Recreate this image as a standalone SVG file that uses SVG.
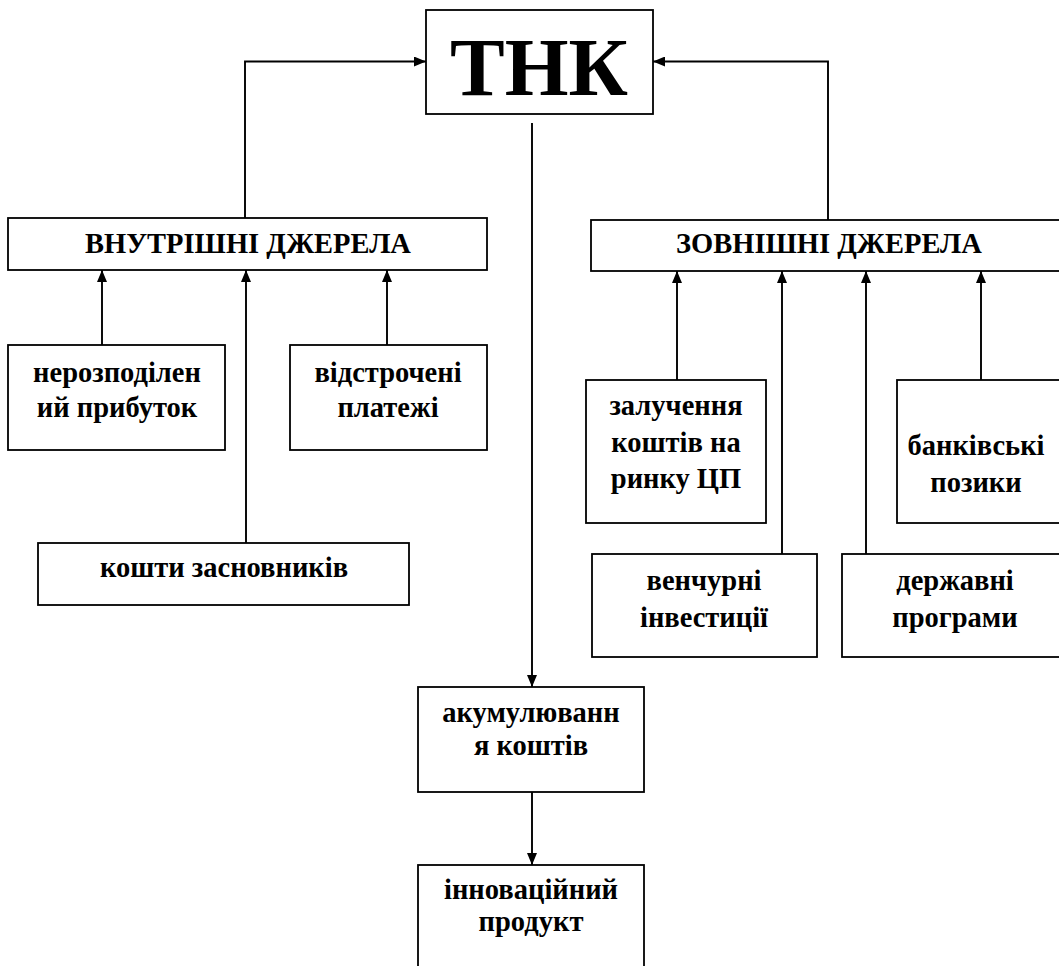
<svg xmlns="http://www.w3.org/2000/svg" width="1059" height="966" viewBox="0 0 1059 966">
<style>
.box{fill:#fff;stroke:#000;stroke-width:1.8}
.t{font-family:"Liberation Serif","Times New Roman",serif;font-weight:bold;font-size:28.5px;text-anchor:middle;fill:#000}
.c{fill:none;stroke:#000;stroke-width:1.9}
</style>
<defs>
<marker id="ah" viewBox="0 0 12 10" refX="12" refY="5" markerWidth="12" markerHeight="10" markerUnits="userSpaceOnUse" orient="auto">
<path d="M0,0 L12,5 L0,10 Z" fill="#000"/>
</marker>
</defs>
<rect width="1059" height="966" fill="#fff"/>
<g id="connectors">
<polyline class="c" points="245,219 245,61.5 426,61.5" marker-end="url(#ah)"/>
<polyline class="c" points="828,220 828,61.5 653,61.5" marker-end="url(#ah)"/>
<line class="c" x1="532" y1="123" x2="532" y2="687" marker-end="url(#ah)"/>
<line class="c" x1="102" y1="345" x2="102" y2="270" marker-end="url(#ah)"/>
<line class="c" x1="246" y1="543" x2="246" y2="270" stroke-width="2.8" marker-end="url(#ah)"/>
<line class="c" x1="387" y1="345" x2="387" y2="270" marker-end="url(#ah)"/>
<line class="c" x1="677" y1="380" x2="677" y2="271" marker-end="url(#ah)"/>
<line class="c" x1="782" y1="554" x2="782" y2="271" marker-end="url(#ah)"/>
<line class="c" x1="866" y1="554" x2="866" y2="271" marker-end="url(#ah)"/>
<line class="c" x1="981" y1="380" x2="981" y2="271" marker-end="url(#ah)"/>
<line class="c" x1="532" y1="792" x2="532" y2="865" marker-end="url(#ah)"/>
</g>
<g id="tnk">
<rect class="box" x="426" y="10" width="227" height="104"/>
<text class="t" x="539" y="95" style="font-size:82px">ТНК</text>
</g>
<g id="internal">
<rect class="box" x="8" y="218" width="479" height="52"/>
<text class="t" x="248" y="253">ВНУТРІШНІ ДЖЕРЕЛА</text>
</g>
<g id="external">
<rect class="box" x="591" y="220" width="480" height="51"/>
<text class="t" x="829" y="253">ЗОВНІШНІ ДЖЕРЕЛА</text>
</g>
<g id="retained">
<rect class="box" x="8" y="345" width="217" height="105"/>
<text class="t" x="117" y="382">нерозподілен</text>
<text class="t" x="117" y="417">ий прибуток</text>
</g>
<g id="deferred">
<rect class="box" x="290" y="345" width="197" height="105"/>
<text class="t" x="388" y="382">відстрочені</text>
<text class="t" x="388" y="417">платежі</text>
</g>
<g id="founders">
<rect class="box" x="38" y="543" width="371" height="62"/>
<text class="t" x="224" y="577">кошти засновників</text>
</g>
<g id="securities">
<rect class="box" x="586" y="380" width="180" height="143"/>
<text class="t" x="676" y="415">залучення</text>
<text class="t" x="676" y="452">коштів на</text>
<text class="t" x="676" y="488">ринку ЦП</text>
</g>
<g id="bank">
<rect class="box" x="897" y="380" width="170" height="143"/>
<text class="t" x="976" y="455">банківські</text>
<text class="t" x="976" y="492">позики</text>
</g>
<g id="venture">
<rect class="box" x="592" y="554" width="225" height="103"/>
<text class="t" x="704" y="590">венчурні</text>
<text class="t" x="704" y="627">інвестиції</text>
</g>
<g id="state">
<rect class="box" x="842" y="554" width="225" height="103"/>
<text class="t" x="955" y="590">державні</text>
<text class="t" x="955" y="627">програми</text>
</g>
<g id="accumulation">
<rect class="box" x="418" y="687" width="226" height="105"/>
<text class="t" x="531" y="722">акумулюванн</text>
<text class="t" x="531" y="755">я коштів</text>
</g>
<g id="product">
<rect class="box" x="418" y="865" width="226" height="120"/>
<text class="t" x="531" y="899">інноваційний</text>
<text class="t" x="531" y="931">продукт</text>
</g>
</svg>
